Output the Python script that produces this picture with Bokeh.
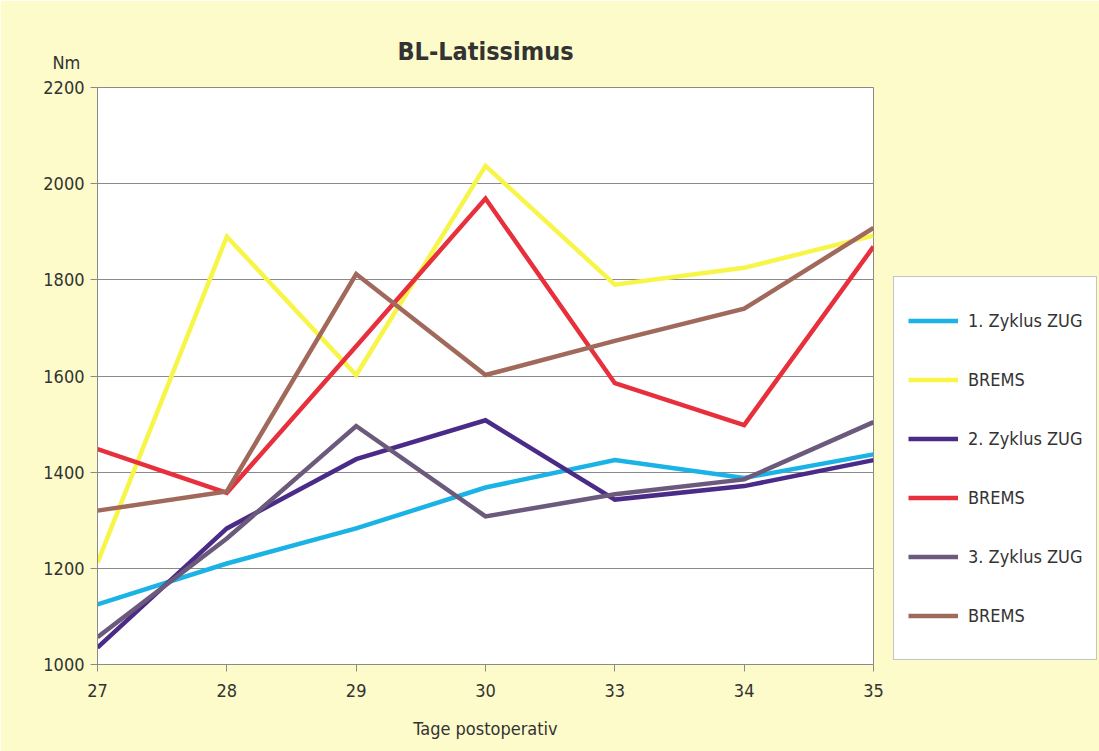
from bokeh.plotting import figure
from bokeh.models import Range1d, FixedTicker, Legend, LegendItem, Title
from bokeh.embed import file_html
from bokeh.resources import INLINE

days = ["27", "28", "29", "30", "33", "34", "35"]
zug1 = [1125, 1210, 1283, 1368, 1425, 1388, 1437]
brems1 = [1212, 1890, 1602, 2037, 1790, 1825, 1892]
zug2 = [1035, 1283, 1427, 1508, 1343, 1371, 1425]
brems2 = [1448, 1357, 1662, 1969, 1585, 1498, 1869]
zug3 = [1057, 1262, 1496, 1308, 1354, 1385, 1504]
brems3 = [1320, 1360, 1812, 1602, 1673, 1740, 1908]
series_names = ["1. Zyklus ZUG", "BREMS", "2. Zyklus ZUG", "BREMS", "3. Zyklus ZUG", "BREMS"]
y_ticks = [1000, 1200, 1400, 1600, 1800, 2000, 2200]

colors = ["#1bb3e6", "#f7f548", "#4b2b88", "#e8303c", "#6b5a7c", "#a1695b"]
FONT = "DejaVu Sans Condensed"
TXT = "#333333"
BG = "#fdfbca"

x = list(range(len(days)))

p = figure(frame_width=776, frame_height=577, output_backend="svg", toolbar_location=None,
           x_range=Range1d(0, len(days) - 1), y_range=Range1d(y_ticks[0], y_ticks[-1]),
           min_border_left=97, min_border_right=4, min_border_top=87, min_border_bottom=87,
           background_fill_color="white", border_fill_color=BG)

p.title.text = "BL-Latissimus"
p.title.align = "center"
p.title.text_font = FONT
p.title.text_font_style = "bold"
p.title.text_font_size = "25px"
p.title.text_color = TXT
p.title.standoff = -63

nm = Title(text="Nm", align="left", offset=-45, text_font=FONT, text_font_size="18px",
           text_font_style="normal", text_color=TXT, standoff=30)
p.add_layout(nm, "above")

p.outline_line_color = "#8a8a8a"
p.outline_line_width = 1

# axes
p.xaxis.ticker = FixedTicker(ticks=x)
p.xaxis.major_label_overrides = {i: d for i, d in enumerate(days)}
p.xaxis.axis_label = "Tage postoperativ"
p.yaxis.ticker = FixedTicker(ticks=y_ticks)
for ax in (p.xaxis[0], p.yaxis[0]):
    ax.axis_line_color = "#8a8a8a"
    ax.major_tick_line_color = "#8a8a8a"
    ax.major_tick_in = 0
    ax.major_tick_out = 7
    ax.minor_tick_line_color = None
    ax.major_label_text_font = FONT
    ax.major_label_text_font_size = "18px"
    ax.major_label_text_color = TXT
    ax.axis_label_text_font = FONT
    ax.axis_label_text_font_size = "18px"
    ax.axis_label_text_font_style = "normal"
    ax.axis_label_text_color = TXT
p.xaxis.major_label_standoff = 12
p.xaxis.axis_label_standoff = 18
p.yaxis.major_label_standoff = 6

p.xgrid.grid_line_color = None
p.ygrid.grid_line_color = "#8a8a8a"
p.ygrid.grid_line_width = 1

series = [zug1, brems1, zug2, brems2, zug3, brems3]
items = []
for vals, name, c in zip(series, series_names, colors):
    r = p.line(x, vals, line_color=c, line_width=4.5, line_join="miter")
    items.append(LegendItem(label=name, renderers=[r]))

legend = Legend(items=items, location=(20, 4), orientation="vertical",
                border_line_color="#8a8a8a", border_line_width=1,
                background_fill_color="white", background_fill_alpha=1,
                padding=14, spacing=0, glyph_width=50, glyph_height=59,
                label_standoff=10, label_text_font=FONT, label_text_font_size="18px",
                label_text_color=TXT, margin=20)
p.add_layout(legend, "right")

open("out.html", "w").write(file_html(p, INLINE))
